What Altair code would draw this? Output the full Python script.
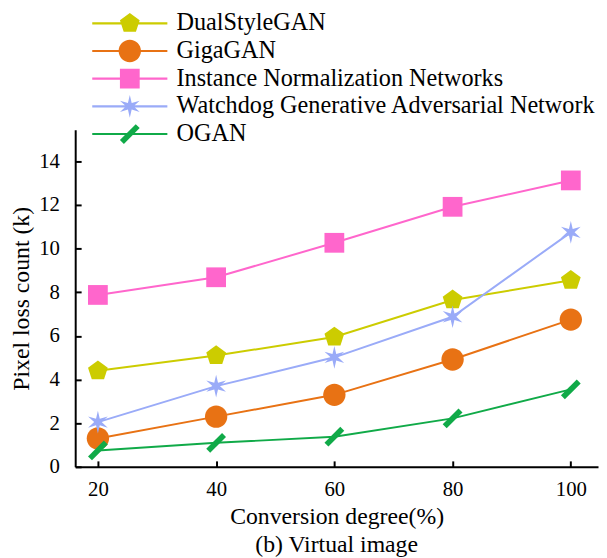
import altair as alt
import pandas as pd

# ---- data ----
x_values = [20, 40, 60, 80, 100]
series_names = [
    "DualStyleGAN",
    "GigaGAN",
    "Instance Normalization Networks",
    "Watchdog Generative Adversarial Network",
    "OGAN",
]
dualstylegan = [4.4, 5.1, 5.95, 7.65, 8.55]
gigagan = [1.3, 2.3, 3.3, 4.92, 6.75]
instance_norm = [7.88, 8.69, 10.27, 11.92, 13.13]
watchdog = [2.05, 3.7, 5.02, 6.88, 10.75]
ogan = [0.75, 1.1, 1.38, 2.22, 3.55]
y_tick_values = [0, 2, 4, 6, 8, 10, 12, 14]

series_values = [dualstylegan, gigagan, instance_norm, watchdog, ogan]
colors = ["#CCCC00", "#E87214", "#FF66CC", "#9AABF8", "#10AA48"]

rows = []
for name, vals in zip(series_names, series_values):
    for xv, yv in zip(x_values, vals):
        rows.append({"x": xv, "y": yv, "series": name})
df = pd.DataFrame(rows)

# ---- marker shapes (unit coordinates) ----
pentagon = "M0,-1.05L1.0,-0.32L0.62,0.85L-0.62,0.85L-1.0,-0.32Z"
circle = "M-1.13,0A1.13,1.13 0 1,1 1.13,0A1.13,1.13 0 1,1 -1.13,0Z"
square = "M-1,-1L1,-1L1,1L-1,1Z"
asterisk = ("M0,-1.15L0.19,-0.33L0.996,-0.575L0.38,0L0.996,0.575L0.19,0.33"
            "L0,1.15L-0.19,0.33L-0.996,0.575L-0.38,0L-0.996,-0.575L-0.19,-0.33Z")
slash = "M-1,0.6L0.6,-1L1,-0.6L-0.6,1Z"
marker_paths = [pentagon, circle, square, asterisk, slash]
line_seg = "M-3.8,-0.11L3.8,-0.11L3.8,0.11L-3.8,0.11Z"
legend_paths = [line_seg + p for p in marker_paths]

FONT = "Liberation Serif"

x_enc = alt.X(
    "x:Q",
    scale=alt.Scale(domain=[16.16, 104.6], nice=False, zero=False),
    axis=alt.Axis(
        values=x_values,
        title="Conversion degree(%)",
        tickSize={"expr": "-6"},
        labelPadding=18,
        titlePadding=5,
    ),
)
y_enc = alt.Y(
    "y:Q",
    scale=alt.Scale(domain=[0, 15.45], nice=False),
    axis=alt.Axis(
        values=y_tick_values,
        title="Pixel loss count (k)",
        tickSize={"expr": "-6"},
        labelPadding=22,
        titlePadding=5,
    ),
)

color_scale = alt.Scale(domain=series_names, range=colors)

base = alt.Chart(df)

lines = base.mark_line(strokeWidth=2).encode(
    x=x_enc,
    y=y_enc,
    color=alt.Color("series:N", scale=color_scale, legend=None),
)

points = base.mark_point(filled=True, size=400, opacity=1).encode(
    x=x_enc,
    y=y_enc,
    color=alt.Color("series:N", scale=color_scale, legend=None),
    shape=alt.Shape(
        "series:N",
        scale=alt.Scale(domain=series_names, range=marker_paths),
        legend=None,
    ),
)

legend_kw = dict(
    orient="none",
    legendX=43,
    legendY=-120,
    title=None,
    symbolSize=400,
    symbolStrokeWidth=0,
    symbolOpacity=1,
    labelFont=FONT,
    labelFontSize=24.5,
    labelColor="black",
    labelOffset=35,
    labelLimit=0,
    rowPadding=3,
    padding=0,
)

legend_layer = base.transform_filter("false").mark_point(filled=True, size=400).encode(
    x=x_enc,
    y=y_enc,
    color=alt.Color("series:N", scale=color_scale, legend=alt.Legend(**legend_kw)),
    shape=alt.Shape(
        "series:N",
        scale=alt.Scale(domain=series_names, range=legend_paths),
        legend=alt.Legend(**legend_kw),
    ),
)

chart = (
    alt.layer(lines, points, legend_layer)
    .resolve_scale(color="independent", shape="independent")
    .properties(
        width=529,
        height=341,
        padding={"left": 68, "top": 120, "right": 1, "bottom": 89},
        autosize=alt.AutoSizeParams(type="none"),
        background="white",
        title=alt.TitleParams(
            "(b) Virtual image",
            orient="bottom",
            font=FONT,
            fontSize=24,
            fontWeight="normal",
            color="black",
            offset=5,
        ),
    )
    .configure_view(stroke=None)
    .configure_axis(
        grid=False,
        domainColor="black",
        domainWidth=2,
        tickColor="black",
        tickWidth=2,
        labelFont=FONT,
        labelFontSize=21,
        labelColor="black",
        titleFont=FONT,
        titleFontSize=24,
        titleFontWeight="normal",
        titleColor="black",
    )
)

chart.save("out.html", embed_options={"renderer": "svg", "actions": False})
